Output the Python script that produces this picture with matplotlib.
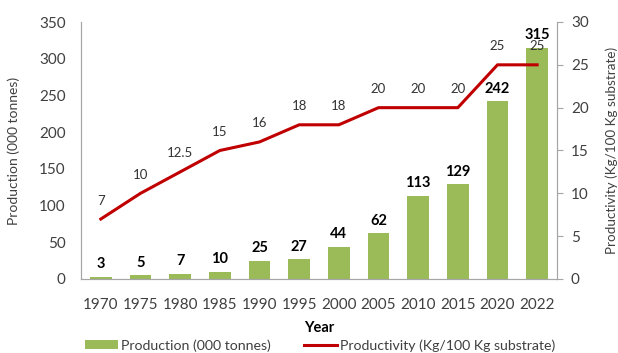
import matplotlib
matplotlib.use("Agg")
import matplotlib.pyplot as plt

years = ["1970", "1975", "1980", "1985", "1990", "1995", "2000", "2005", "2010", "2015", "2020", "2022"]
production = [3, 5, 7, 10, 25, 27, 44, 62, 113, 129, 242, 315]
productivity = [7, 10, 12.5, 15, 16, 18, 18, 20, 20, 20, 25, 25]
prod_labels = ["7", "10", "12.5", "15", "16", "18", "18", "20", "20", "20", "25", "25"]

plt.rcParams['font.family'] = ['Lato', 'DejaVu Sans']

def main():
    fig = plt.figure(figsize=(6.18, 3.53), dpi=100)
    ax1 = fig.add_axes([81 / 618, 1 - 279 / 353, (557 - 81) / 618, (279 - 22) / 353])
    ax2 = ax1.twinx()

    x = list(range(len(years)))
    bars = ax1.bar(x, production, width=0.55, color="#9BBB59", label="Production (000 tonnes)")
    line, = ax2.plot(x, productivity, color="#C00000", lw=2.2, label="Productivity (Kg/100 Kg substrate)")

    for xi, v in zip(x, production):
        ax1.annotate(str(v), (xi, v), xytext=(0, 4), textcoords="offset points",
                     ha="center", va="bottom", fontsize=10.5, fontweight="bold", color="black")
    for xi, v, s in zip(x, productivity, prod_labels):
        ax2.annotate(s, (xi, v), xytext=(0, 9), textcoords="offset points",
                     ha="center", va="bottom", fontsize=9.5, color="#333333")

    ax1.set_xlim(-0.5, len(years) - 0.5)
    ax1.set_ylim(0, 350)
    ax2.set_ylim(0, 30)
    ax1.set_yticks(range(0, 351, 50))
    ax2.set_yticks(range(0, 31, 5))
    ax1.set_xticks(x)
    ax1.set_xticklabels(years)

    grey = "#A6A6A6"
    for ax in (ax1, ax2):
        ax.spines["top"].set_visible(False)
        for s in ("left", "right", "bottom"):
            ax.spines[s].set_color(grey)
        ax.tick_params(labelsize=11, colors="#404040")
    ax1.tick_params(axis="y", length=0, pad=11)
    ax1.tick_params(axis="x", length=0, pad=14)
    ax2.tick_params(axis="y", length=4, color=grey, pad=6)

    ax1.set_ylabel("Production (000 tonnes)", fontsize=10, color="#404040", labelpad=14)
    ax2.set_ylabel("Productivity (Kg/100 Kg substrate)", fontsize=9.7, color="#404040", labelpad=12)
    ax1.set_xlabel("Year", fontsize=10.5, fontweight="bold", color="black", labelpad=6)

    fig.legend([bars, line], [bars.get_label(), line.get_label()], loc="center",
               bbox_to_anchor=(0.518, 0.022), ncol=2, frameon=False, fontsize=10.2,
               handlelength=2.3, handleheight=0.6, handletextpad=0.2, columnspacing=2.4,
               labelcolor="#404040")

    fig.savefig("out.png", dpi=100)


if __name__ == '__main__':
    main()
